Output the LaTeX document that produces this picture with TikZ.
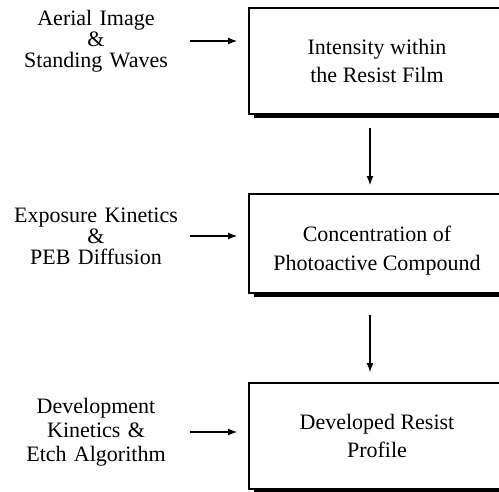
\documentclass[tikz,border=0pt]{standalone}
\usepackage{fontspec}
\setmainfont{Liberation Serif}
\usepackage{tikz}
\usetikzlibrary{shadows,arrows.meta}
\newcommand*\boxwd{256pt}
\newcommand*\txtsize{\fontsize{22}{21}\selectfont}
\tikzset{
    stagebox/.style = {draw, line width=1.3pt, fill=white,
                    minimum width=\boxwd, inner sep=0pt, outer sep=0pt,
                    align=center, font=\fontsize{22}{28}\selectfont,
                    drop shadow={opacity=1, fill=black,
                                 shadow xshift=5pt, shadow yshift=-4pt}},
    inputlabel/.style = {text width=190pt, align=center,
                    inner sep=0pt, outer sep=0pt, font=\txtsize},
    flowarrow/.style = {-{Latex[length=9pt,width=7pt]}, line width=1.1pt},
  }
\begin{document}
\begin{tikzpicture}[x=1pt,y=1pt]
      \useasboundingbox (0,0) rectangle (499,-491);
      % Stages on the right (boxes run off the page at the right)
      \node[stagebox, minimum height=106pt] (B1) at (377,-61)
        {Intensity within\\the Resist Film};
      \node[stagebox, minimum height=99pt]  (B2) at (377,-243.5) {};
      \node[align=center, font=\fontsize{22}{29}\selectfont] (B2text) at ([yshift=-7pt]B2.center)
        {Concentration of\\Photoactive Compound};
      \node[stagebox, minimum height=106pt] (B3) at (377,-436)
        {Developed Resist\\Profile};

      % Inputs on the left
      \node[inputlabel] (L1) at (96,-41)  {Aerial Image\\\&\\Standing Waves};
      \node[inputlabel] (L2) at (96,-236) {Exposure Kinetics\\\&\\PEB Diffusion};
      \node[inputlabel,font=\fontsize{22}{24}\selectfont] (L3) at (96,-432)
        {Development\\Kinetics \&\\Etch Algorithm};

      % Input arrows
      \foreach \i in {1,2,3} {
        \draw[flowarrow, shorten >=12pt] ([xshift=-1pt]L\i.east) -- (L\i.east -| B\i.west);
      }

      % Arrows between stages
      \draw[flowarrow, shorten <=14pt, shorten >=9pt] ([xshift=-7pt]B1.south) -- ([xshift=-7pt]B2.north);
      \draw[flowarrow, shorten <=22pt, shorten >=11pt] ([xshift=-7pt]B2.south) -- ([xshift=-7pt]B3.north);
    \end{tikzpicture}
\end{document}
